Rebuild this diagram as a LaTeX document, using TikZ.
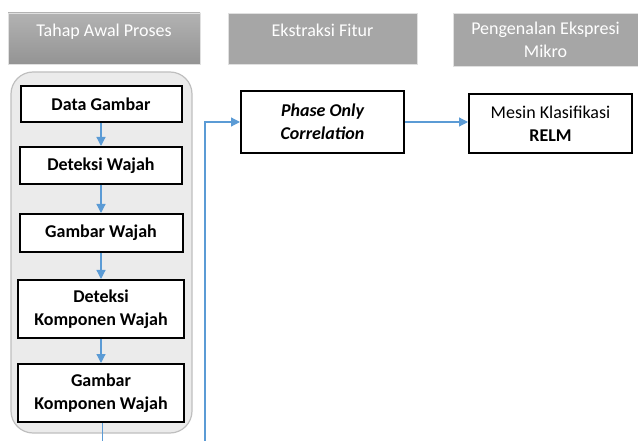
\documentclass[tikz,border=0pt]{standalone}
\usepackage{fontspec}
\setmainfont{Carlito}
\usetikzlibrary{arrows.meta}
\definecolor{headgray}{HTML}{A6A6A6}
\definecolor{panelgray}{HTML}{EBEBEB}
\definecolor{flowblue}{HTML}{5B9BD5}

\begin{document}
\begin{tikzpicture}[x=1pt,y=-1pt]

\tikzstyle{head} = [
	fill=headgray, draw=black!12, text=white, inner sep=0pt,
	align=center, font=\fontsize{18}{23}\selectfont ];
\tikzstyle{headtop} = [text height=24pt, text depth=27pt];
\tikzstyle{block} = [
	draw, line width=2pt, fill=white, rectangle, inner sep=0pt,
	align=center, font=\bfseries\fontsize{18}{23}\selectfont ];
\tikzstyle{flow} = [draw=flowblue, line width=1.2pt,
	-{Triangle[width=9pt,length=9pt]}];
\useasboundingbox (0,0) rectangle (638,441);

% headers
\node[head,headtop,top color=black!30,bottom color=black!42,minimum width=192pt]
	(h1) at (104,38.5) {Tahap Awal Proses};
\node[head,headtop,minimum width=189pt] (h2) at (322.5,38.5) {Ekstraksi Fitur};
\node[head,minimum width=185pt,minimum height=53pt] (h3) at (545.5,39.5)
	{Pengenalan Ekspresi\\Mikro};

% first stage
\node[draw=black!25,fill=panelgray,line width=1.2pt,rounded corners=22pt,
	minimum width=181pt,minimum height=361pt] (panel) at (101.5,252.5) {};

\node[block,minimum width=161pt,minimum height=36pt] (dg) at (101,104) {Data Gambar};
\node[block,minimum width=162pt,minimum height=37pt] (dw) at (101,165.5) {Deteksi Wajah};
\node[block,minimum width=163pt,minimum height=38pt] (gw) at (101,233) {Gambar Wajah};
\node[block,minimum width=166pt,minimum height=58pt] (dkw) at (101,309)
	{Deteksi\\Komponen Wajah};
\node[block,minimum width=166pt,minimum height=58pt] (gkw) at (101,393)
	{Gambar\\Komponen Wajah};

\draw[flow] (dg) -- (dw);
\draw[flow] (dw) -- (gw);
\draw[flow] (gw) -- (dkw);
\draw[flow] (dkw) -- (gkw);

% other stages
\node[block,font=\bfseries\itshape\fontsize{18}{23}\selectfont,
	minimum width=163pt,minimum height=62pt] (poc) at (322.5,122) {Phase Only\\Correlation};
\node[block,font=\fontsize{18}{23}\selectfont,minimum width=163pt,minimum height=59pt]
	(relm) at (550.5,123.5) {Mesin Klasifikasi\\\textbf{RELM}};

\coordinate (out) at (102.5,441);
\coordinate (in) at (205,441);
\draw[flowblue,line width=1.2pt] (gkw.south -| out) -- (out);
\draw[flow] (in) |- (poc.west);
\draw[flow] (poc.east) -- (poc.east -| relm.west);

\end{tikzpicture}
\end{document}
